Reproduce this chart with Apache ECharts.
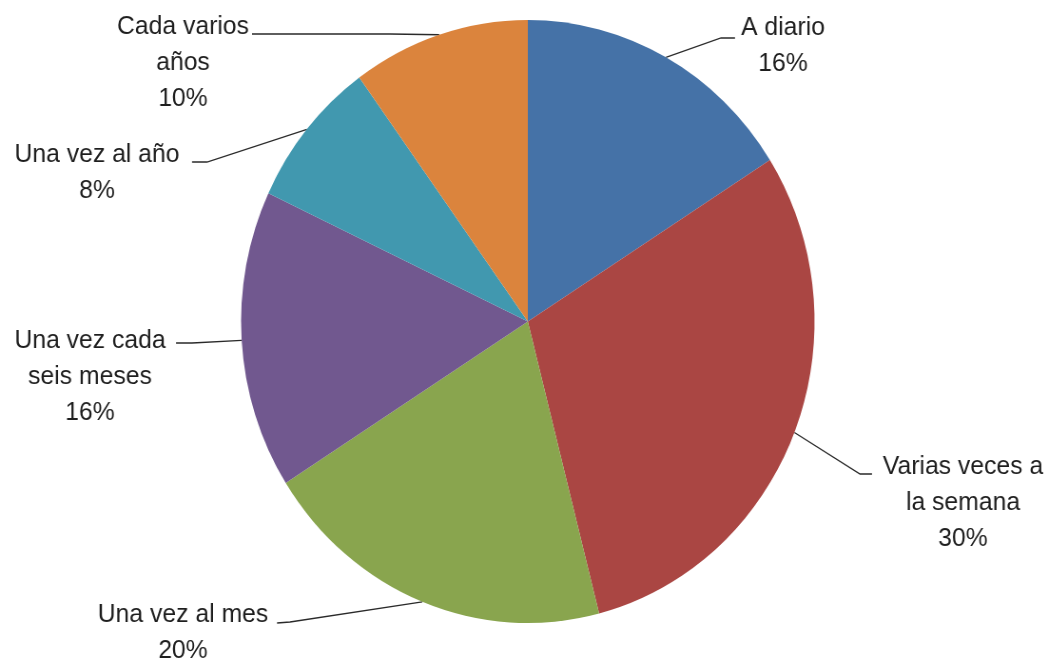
<!DOCTYPE html>
<html>
<head>
<meta charset="utf-8">
<title>Frecuencia</title>
<script src="https://cdn.jsdelivr.net/npm/echarts@6/dist/echarts.min.js"></script>
<style>
  html, body { margin: 0; padding: 0; background: #fff; overflow: hidden; }
  /* the pie in the original is slightly squeezed horizontally */
  #wrap { width: 1048px; height: 664px; overflow: hidden; }
  #main { width: 1102px; height: 664px; transform: scaleX(0.951); transform-origin: 0 0; }
</style>
</head>
<body>
<div id="wrap"><div id="main"></div></div>
<script>
const categories = [
  'A diario',
  'Varias veces a\nla semana',
  'Una vez al mes',
  'Una vez cada\nseis meses',
  'Una vez al año',
  'Cada varios\naños'
];
const percentages = [16, 30, 20, 16, 8, 10];
const sliceColors = ['#4572A7', '#AA4643', '#89A54E', '#71588F', '#4198AF', '#DB843D'];

const SX = 0.951;            // horizontal squeeze
const CX = 555, CY = 321.5, R = 301.5;

// label block centres and leader bend/end points (screen px)
const labelSpots = [
  [783, 46],
  [963, 503],
  [183, 633],
  [90, 377],
  [97, 173],
  [183, 63]
];
const leaderEnds = [
  [[721, 38], [735, 38]],
  [[860, 474], [872, 474]],
  [[290, 622], [277, 623]],
  [[192, 343], [176, 343]],
  [[207, 162], [192, 162]],
  [[390, 34], [252, 34]]
];

// edge point at the middle of each slice
const total = percentages.reduce((a, b) => a + b, 0);
const midPoints = [];
let acc = 0;
percentages.forEach(v => {
  const a = (90 - (acc + v / 2) / total * 360) * Math.PI / 180;
  midPoints.push([CX + R * Math.cos(a), CY - R * Math.sin(a)]);
  acc += v;
});

const chart = echarts.init(document.getElementById('main'));

chart.setOption({
  color: sliceColors,
  animation: false,
  series: [{
    type: 'pie',
    center: [CX, CY],
    radius: R,
    startAngle: 90,
    clockwise: true,
    avoidLabelOverlap: false,
    itemStyle: { borderWidth: 0 },
    label: {
      show: true,
      position: 'outside',
      formatter: p => p.name + '\n' + p.value + '%',
      fontFamily: 'Liberation Sans',
      fontSize: 26,
      lineHeight: 36,
      color: '#1e1e1e',
      align: 'center'
    },
    labelLine: {
      show: true,
      lineStyle: { color: '#2a2a2a', width: 1.3 }
    },
    labelLayout: function (params) {
      const i = params.dataIndex;
      const s = labelSpots[i];
      const le = leaderEnds[i];
      return {
        x: s[0] / SX, y: s[1], align: 'center', verticalAlign: 'middle',
        labelLinePoints: [
          midPoints[i],
          [le[0][0] / SX, le[0][1]],
          [le[1][0] / SX, le[1][1]]
        ]
      };
    },
    emphasis: { disabled: true },
    data: categories.map((c, i) => ({ name: c, value: percentages[i] }))
  }]
});
</script>
</body>
</html>
